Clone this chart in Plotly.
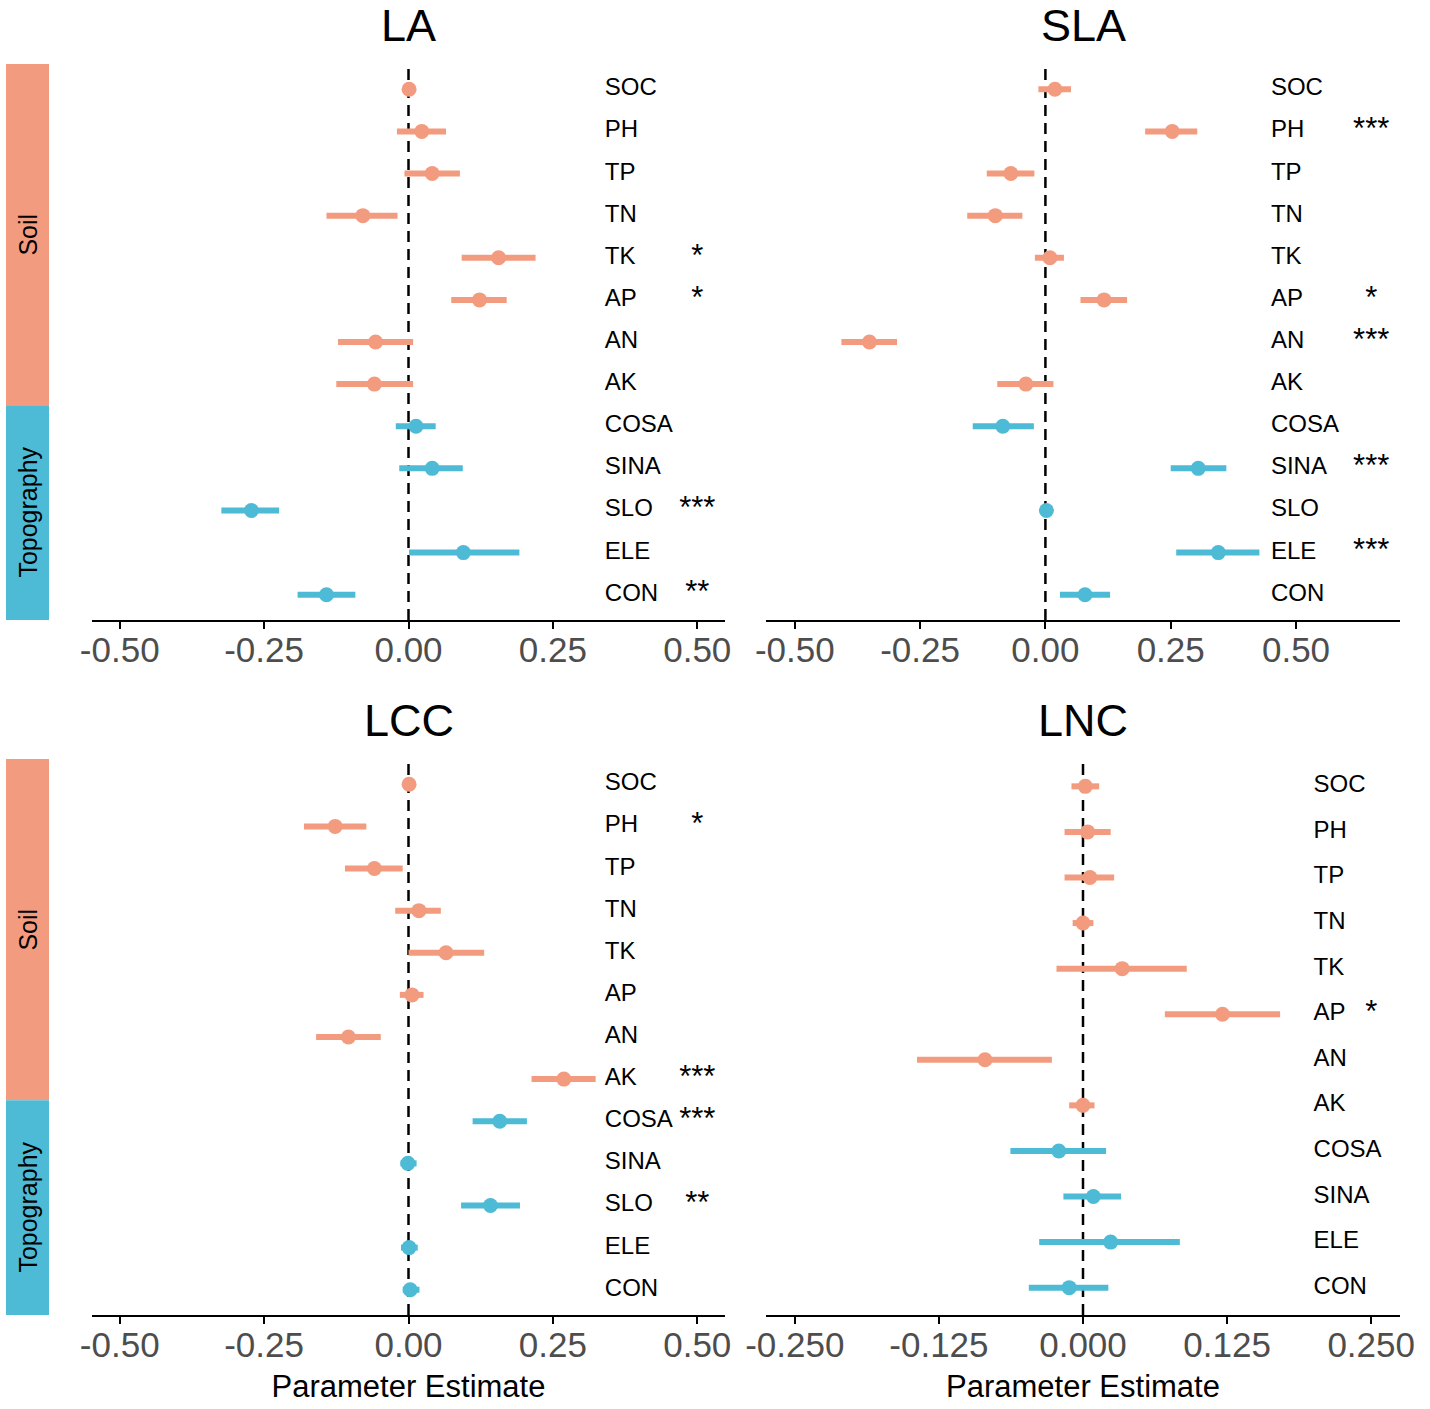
import plotly.graph_objects as go

# ---------------- data ----------------
vars13 = ["SOC", "PH", "TP", "TN", "TK", "AP", "AN", "AK", "COSA", "SINA", "SLO", "ELE", "CON"]
vars12 = ["SOC", "PH", "TP", "TN", "TK", "AP", "AN", "AK", "COSA", "SINA", "ELE", "CON"]
soil_vars = ["SOC", "PH", "TP", "TN", "TK", "AP", "AN", "AK"]
topo_vars = ["COSA", "SINA", "SLO", "ELE", "CON"]

LA_est = [0.001, 0.023, 0.041, -0.079, 0.156, 0.123, -0.057, -0.059, 0.013, 0.041, -0.272, 0.095, -0.142]
LA_lo = [-0.004, -0.020, -0.007, -0.142, 0.092, 0.074, -0.122, -0.125, -0.022, -0.016, -0.324, 0.001, -0.192]
LA_hi = [0.006, 0.065, 0.089, -0.019, 0.220, 0.170, 0.008, 0.008, 0.047, 0.094, -0.224, 0.192, -0.092]
LA_sig = ["", "", "", "", "*", "*", "", "", "", "", "***", "", "**"]

SLA_est = [0.019, 0.253, -0.069, -0.100, 0.009, 0.117, -0.351, -0.039, -0.085, 0.305, 0.002, 0.345, 0.079]
SLA_lo = [-0.014, 0.199, -0.117, -0.156, -0.021, 0.070, -0.407, -0.096, -0.145, 0.250, -0.001, 0.261, 0.029]
SLA_hi = [0.051, 0.303, -0.022, -0.046, 0.037, 0.163, -0.296, 0.016, -0.023, 0.361, 0.005, 0.427, 0.129]
SLA_sig = ["", "***", "", "", "", "*", "***", "", "", "***", "", "***", ""]

LCC_est = [0.001, -0.127, -0.059, 0.018, 0.065, 0.006, -0.104, 0.269, 0.158, -0.001, 0.142, 0.001, 0.003]
LCC_lo = [-0.004, -0.181, -0.110, -0.023, 0.000, -0.015, -0.160, 0.213, 0.111, -0.014, 0.091, -0.013, -0.010]
LCC_hi = [0.006, -0.073, -0.010, 0.056, 0.131, 0.026, -0.048, 0.324, 0.205, 0.014, 0.193, 0.016, 0.019]
LCC_sig = ["", "*", "", "", "", "", "", "***", "***", "", "**", "", ""]

LNC_est = [0.002, 0.004, 0.006, 0.000, 0.034, 0.121, -0.085, 0.000, -0.021, 0.009, 0.024, -0.012]
LNC_lo = [-0.010, -0.016, -0.016, -0.009, -0.023, 0.071, -0.144, -0.012, -0.063, -0.017, -0.038, -0.047]
LNC_hi = [0.014, 0.024, 0.027, 0.009, 0.090, 0.171, -0.027, 0.010, 0.020, 0.033, 0.084, 0.022]
LNC_sig = ["", "", "", "", "", "*", "", "", "", "", "", ""]

ticks_half = [-0.50, -0.25, 0.00, 0.25, 0.50]
ticks_half_txt = ["-0.50", "-0.25", "0.00", "0.25", "0.50"]
ticks_quarter = [-0.250, -0.125, 0.000, 0.125, 0.250]
ticks_quarter_txt = ["-0.250", "-0.125", "0.000", "0.125", "0.250"]

# ---------------- style ----------------
SOIL_COL = "#F39B7F"
TOPO_COL = "#4DBBD5"
FONT = "Liberation Sans, Arial, sans-serif"
W, H = 1430, 1409

panels = [
    dict(name="LA", vars=vars13, est=LA_est, lo=LA_lo, hi=LA_hi, sig=LA_sig,
         xr=[-0.548, 0.548], lab_x=0.34, star_x=0.50, tv=ticks_half, tt=ticks_half_txt,
         dom_x=[92, 725], dom_y=[64, 620], strip=True, xtitle=False, title_y=25),
    dict(name="SLA", vars=vars13, est=SLA_est, lo=SLA_lo, hi=SLA_hi, sig=SLA_sig,
         xr=[-0.5575, 0.7075], lab_x=0.45, star_x=0.65, tv=ticks_half, tt=ticks_half_txt,
         dom_x=[766, 1400], dom_y=[64, 620], strip=False, xtitle=False, title_y=25),
    dict(name="LCC", vars=vars13, est=LCC_est, lo=LCC_lo, hi=LCC_hi, sig=LCC_sig,
         xr=[-0.548, 0.548], lab_x=0.34, star_x=0.50, tv=ticks_half, tt=ticks_half_txt,
         dom_x=[92, 725], dom_y=[759, 1315], strip=True, xtitle=True, title_y=720),
    dict(name="LNC", vars=vars12, est=LNC_est, lo=LNC_lo, hi=LNC_hi, sig=LNC_sig,
         xr=[-0.275, 0.275], lab_x=0.20, star_x=0.25, tv=ticks_quarter, tt=ticks_quarter_txt,
         dom_x=[766, 1400], dom_y=[759, 1315], strip=False, xtitle=True, title_y=720),
]

fig = go.Figure()
shapes = []
annotations = []

for k, p in enumerate(panels):
    n = k + 1
    xa = "x" if n == 1 else f"x{n}"
    ya = "y" if n == 1 else f"y{n}"
    xkey = "xaxis" if n == 1 else f"xaxis{n}"
    ykey = "yaxis" if n == 1 else f"yaxis{n}"

    for grp_vars, col in [(soil_vars, SOIL_COL), (topo_vars, TOPO_COL)]:
        idx = [i for i, v in enumerate(p["vars"]) if v in grp_vars]
        ys = [p["vars"][i] for i in idx]
        xs = [p["est"][i] for i in idx]
        plus = [p["hi"][i] - p["est"][i] for i in idx]
        minus = [p["est"][i] - p["lo"][i] for i in idx]
        fig.add_trace(go.Scatter(
            x=xs, y=ys, mode="markers", xaxis=xa, yaxis=ya,
            marker=dict(color=col, size=15, line=dict(width=0)),
            error_x=dict(type="data", symmetric=False, array=plus, arrayminus=minus,
                         color=col, thickness=6, width=0),
            showlegend=False, hoverinfo="skip"))

    # variable labels
    fig.add_trace(go.Scatter(
        x=[p["lab_x"]] * len(p["vars"]), y=p["vars"], mode="text", text=p["vars"],
        textposition="middle right", textfont=dict(family=FONT, size=24, color="black"),
        xaxis=xa, yaxis=ya, showlegend=False, hoverinfo="skip", cliponaxis=False))
    # significance stars
    fig.add_trace(go.Scatter(
        x=[p["star_x"]] * len(p["vars"]), y=p["vars"], mode="text", text=p["sig"],
        textposition="middle center", textfont=dict(family=FONT, size=31, color="black"),
        xaxis=xa, yaxis=ya, showlegend=False, hoverinfo="skip", cliponaxis=False))

    nv = len(p["vars"])
    fig.update_layout({
        xkey: dict(domain=[p["dom_x"][0] / W, p["dom_x"][1] / W], anchor=ya,
                   range=p["xr"], showgrid=False, zeroline=False, automargin=False,
                   showline=True, linecolor="black", linewidth=2,
                   ticks="outside", ticklen=7, tickwidth=2, tickcolor="black",
                   ticklabelstandoff=-9,
                   tickvals=p["tv"], ticktext=p["tt"],
                   tickfont=dict(family=FONT, size=35, color="#4D4D4D"),
                   title=dict(text="Parameter Estimate" if p["xtitle"] else "",
                              font=dict(family=FONT, size=31, color="black"), standoff=12)),
        ykey: dict(domain=[1 - p["dom_y"][1] / H, 1 - p["dom_y"][0] / H], anchor=xa,
                   type="category", categoryorder="array", categoryarray=p["vars"],
                   range=[nv - 0.4, -0.6], showgrid=False, zeroline=False, automargin=False,
                   showline=False, showticklabels=False, ticks=""),
    })

    # dashed zero line
    shapes.append(dict(type="line", xref=xa, yref=f"{ya} domain", x0=0, x1=0, y0=0, y1=1,
                       line=dict(color="black", width=2.5, dash="11px,7px"), layer="below"))

    # title
    annotations.append(dict(text=p["name"], xref="paper", yref="paper",
                            x=(p["dom_x"][0] + p["dom_x"][1]) / 2 / W,
                            y=1 - p["title_y"] / H, showarrow=False,
                            font=dict(family=FONT, size=45, color="black"),
                            xanchor="center", yanchor="middle"))

    # group strip
    if p["strip"]:
        n_soil = len([v for v in p["vars"] if v in soil_vars])
        bounds = [(-0.6, n_soil - 0.5, SOIL_COL, "Soil"), (n_soil - 0.5, nv - 0.4, TOPO_COL, "Topography")]
        for y0, y1, col, lab in bounds:
            shapes.append(dict(type="rect", xref="paper", yref=ya, x0=6 / W, x1=49 / W,
                               y0=y0, y1=y1, fillcolor=col, line=dict(width=0), layer="below"))
            annotations.append(dict(text=lab, xref="paper", yref=ya, x=28 / W, y=(y0 + y1) / 2,
                                    showarrow=False, textangle=-90,
                                    font=dict(family=FONT, size=25, color="black"),
                                    xanchor="center", yanchor="middle"))

fig.update_layout(width=W, height=H, margin=dict(l=0, r=0, t=0, b=0, autoexpand=False),
                  paper_bgcolor="white", plot_bgcolor="white",
                  shapes=shapes, annotations=annotations, showlegend=False)

fig.write_html("out.html", config={"displayModeBar": False},
               post_script="document.body.style.margin='0';document.body.style.overflow='hidden';")
